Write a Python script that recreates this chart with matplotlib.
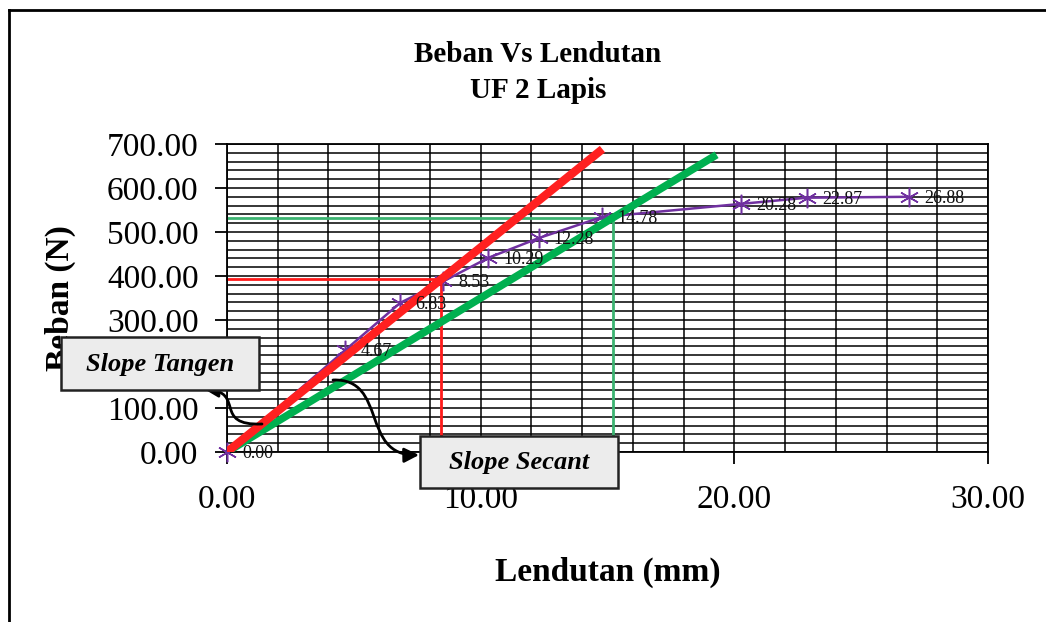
import matplotlib
matplotlib.use("Agg")
import matplotlib.pyplot as plt
import matplotlib.transforms as mtransforms
from matplotlib.patches import FancyArrowPatch, Rectangle
from matplotlib.path import Path
from matplotlib.lines import Line2D
import numpy as np

# Load-deflection test data (UF 2 layers)
lendutan = [0.00, 4.67, 6.83, 8.53, 10.29, 12.28, 14.78, 20.28, 22.87, 26.88]
beban = [0.0, 232.0, 339.0, 388.0, 441.0, 486.0, 534.0, 564.0, 578.0, 580.0]

# Tangent slope construction: reference point and end of drawn line
tangen_x = 8.45
tangen_y = 393.0
tangen_end_x = 14.8

# Secant slope construction
secant_x = 15.2
secant_y = 532.0
secant_end_x = 19.3

x_ticks = [0, 10, 20, 30]
y_ticks = [0, 100, 200, 300, 400, 500, 600, 700]

SERIF = ["Liberation Serif", "DejaVu Serif"]
plt.rcParams["font.family"] = SERIF

W, H, DPI = 1046, 622, 100
fig = plt.figure(figsize=(W / DPI, H / DPI), dpi=DPI)
fig.patch.set_facecolor("white")

# pixel coordinates measured from the top-left corner of the figure
pix = mtransforms.Affine2D().scale(1 / DPI, -1 / DPI).translate(0, H / DPI) + fig.dpi_scale_trans

ax = fig.add_axes([227 / W, (H - 452) / H, (988 - 227) / W, (452 - 144) / H])
ax.set_xlim(0, 30)
ax.set_ylim(0, 700)

# dense worksheet-style grid
for gx in np.arange(0, 30.01, 2):
    ax.axvline(gx, color="black", lw=1.1, zorder=1)
for gy in np.arange(0, 700.01, 20):
    ax.axhline(gy, color="black", lw=1.1, zorder=1)

for s in ax.spines.values():
    s.set_color("black")
    s.set_linewidth(1.3)

ax.set_xticks(x_ticks)
ax.set_yticks(y_ticks)
ax.set_xticklabels([f"{v:.2f}" for v in x_ticks], fontsize=24)
ax.set_yticklabels([f"{v:.2f}" for v in y_ticks], fontsize=24)
ax.tick_params(axis="y", direction="out", length=8.5, width=1.3, pad=12, colors="black")
ax.tick_params(axis="x", direction="out", length=8.5, width=1.3, pad=15, colors="black")

ax.set_xlabel("Lendutan (mm)", fontsize=24, fontweight="bold", labelpad=30)
ax.set_ylabel("Beban (N)", fontsize=24, fontweight="bold", labelpad=16)
ax.yaxis.set_label_coords(-0.198, 0.5)

# tangent and secant guide lines
ax.plot([0, tangen_x], [tangen_y, tangen_y], color="#FF1A1A", lw=2, zorder=2.5, clip_on=False)
ax.plot([tangen_x, tangen_x], [tangen_y, 0], color="#FF1A1A", lw=2, zorder=2.5)
ax.plot([tangen_x, tangen_x], [0, -40], color="#FF1A1A", lw=2, zorder=2.5, clip_on=False)
ax.plot([0, secant_x], [secant_y, secant_y], color="#3CB371", lw=2, zorder=2.5)
ax.plot([secant_x, secant_x], [secant_y, 0], color="#3CB371", lw=2, zorder=2.5)
ax.plot([secant_x, secant_x], [0, -40], color="#3CB371", lw=2, zorder=2.5, clip_on=False)

# measured curve
ax.plot(lendutan, beban, color="#7030A0", lw=1.8, marker=(6, 2, 0), markersize=14,
        markeredgewidth=1.1, zorder=3, clip_on=False)
for xv, yv in zip(lendutan, beban):
    ax.annotate(f"{xv:.2f}", (xv, yv), xytext=(11, -1), textcoords="offset points",
                ha="left", va="center", fontsize=13, color="#111111", zorder=6)

# secant and tangent lines through the origin
sec_slope = secant_y / secant_x
tan_slope = tangen_y / tangen_x
ax.plot([0, secant_end_x], [0, sec_slope * secant_end_x], color="#00B050", lw=5.5,
        solid_capstyle="butt", zorder=4)
ax.plot([0, tangen_end_x], [0, tan_slope * tangen_end_x], color="#FF2020", lw=6,
        solid_capstyle="butt", zorder=5)

# title
fig.text(538 / W, 1 - 54 / H, "Beban Vs Lendutan", ha="center", va="center",
         fontsize=21, fontweight="bold")
fig.text(538 / W, 1 - 90 / H, "UF 2 Lapis", ha="center", va="center",
         fontsize=21, fontweight="bold")

# callout boxes
def callout(x0, y0, x1, y1, label):
    rect = Rectangle((x0, y1), x1 - x0, y0 - y1, transform=pix, facecolor="#ECECEC",
                     edgecolor="#222222", lw=1.8, zorder=20)
    fig.add_artist(rect)
    fig.text(((x0 + x1) / 2) / W, 1 - ((y0 + y1) / 2 + 1) / H, label, ha="center", va="center",
             fontsize=19, fontweight="bold", fontstyle="italic", zorder=21)

callout(61, 337, 259, 390, "Slope Tangen")
callout(420, 436, 618, 488, "Slope Secant")

def curved_arrow(pts):
    path = Path(pts, [Path.MOVETO, Path.CURVE4, Path.CURVE4, Path.CURVE4])
    arr = FancyArrowPatch(path=path, arrowstyle="-|>", mutation_scale=22, lw=2,
                          color="black", transform=pix, zorder=19)
    fig.add_artist(arr)

curved_arrow([(262, 424), (212, 426), (246, 392), (204, 389)])
curved_arrow([(333, 380), (388, 378), (360, 456), (419, 455)])

# outer chart frame
fig.add_artist(Line2D([9, W], [10, 10], transform=pix, color="black", lw=2))
fig.add_artist(Line2D([9, 9], [10, H], transform=pix, color="black", lw=2))

fig.savefig("out.png", dpi=DPI)
